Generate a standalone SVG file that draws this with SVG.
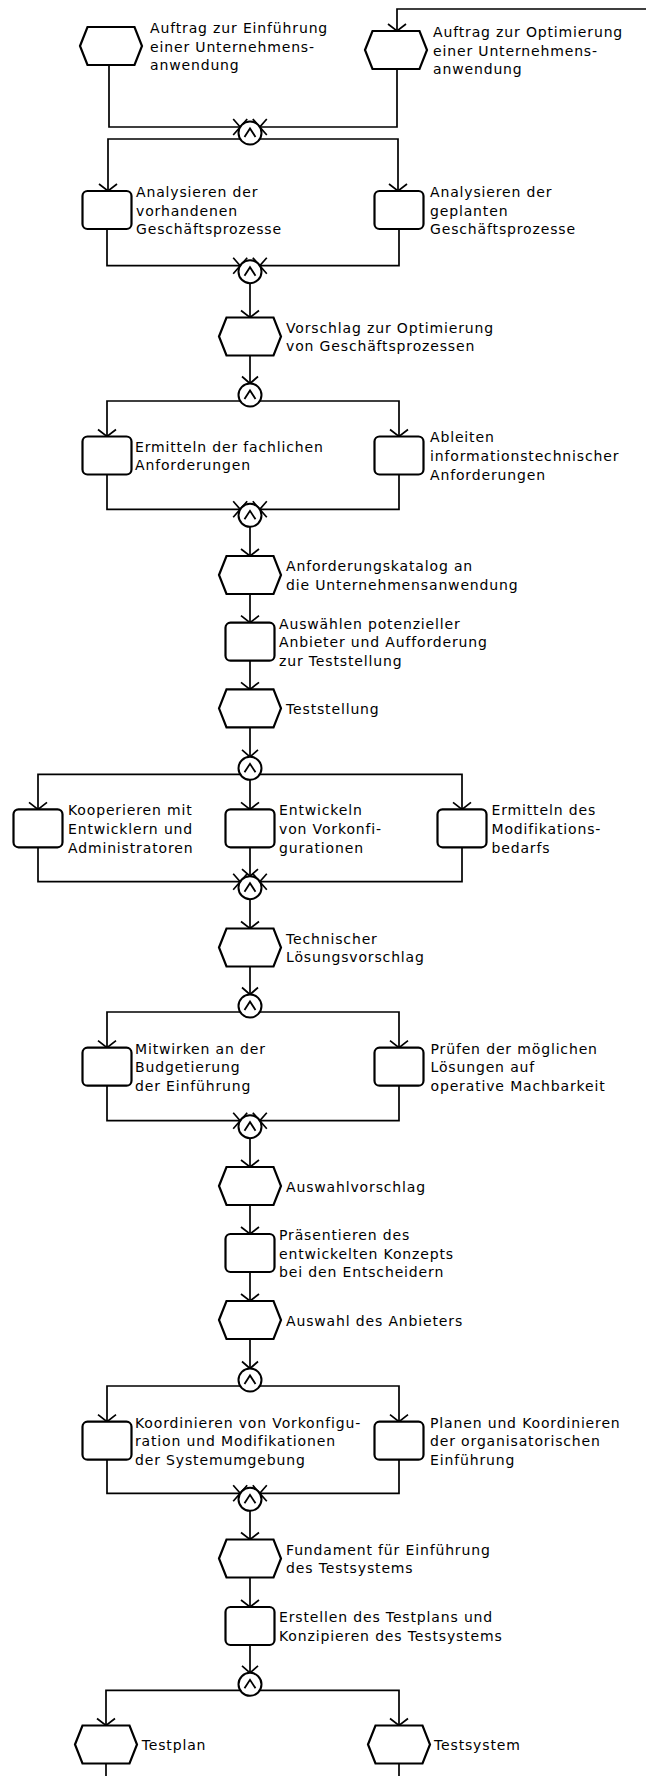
<svg xmlns="http://www.w3.org/2000/svg" width="646" height="1776" viewBox="0 0 646 1776">
<style>
.ev{fill:#fff;stroke:#000;stroke-width:2.2;stroke-linejoin:miter}
.fn{fill:#fff;stroke:#000;stroke-width:2.2}
.op{fill:#fff;stroke:#000;stroke-width:2}
.car{fill:none;stroke:#000;stroke-width:1.8}
.ln{fill:none;stroke:#000;stroke-width:1.7}
.v{marker-end:url(#av)}
.x{marker-end:url(#ax)}
text{font-family:"DejaVu Sans",Verdana,"Liberation Sans",sans-serif;font-size:14px;letter-spacing:0.85px;fill:#000}
</style>
<defs>
<marker id="av" markerUnits="userSpaceOnUse" viewBox="-12 -12 24 24" markerWidth="24" markerHeight="24" refX="0" refY="0" orient="auto" overflow="visible">
<path d="M-7,-9 L0,0 L-7,9" fill="none" stroke="#000" stroke-width="1.7"/>
</marker>
<marker id="ax" markerUnits="userSpaceOnUse" viewBox="-12 -12 24 24" markerWidth="24" markerHeight="24" refX="0" refY="0" orient="auto" overflow="visible">
<path d="M-7,-8 L7,8 M-7,8 L7,-8" fill="none" stroke="#000" stroke-width="1.7"/>
</marker>
</defs>
<rect width="646" height="1776" fill="#fff"/>
<g id="connectors">
<path class="ln v" d="M646,9 H397 V31"/>
<path class="ln x" d="M109,65 V127 H240.2"/>
<path class="ln x" d="M397,69 V127 H259.8"/>
<path class="ln v" d="M240.2,139 H108 V191"/>
<path class="ln v" d="M259.8,139 H398 V191"/>
<path class="ln x" d="M107,229 V265.7 H240.2"/>
<path class="ln x" d="M399,229 V265.7 H259.8"/>
<path class="ln v" d="M250,283.2 V317.5"/>
<path class="ln x" d="M250,355.5 V383.5"/>
<path class="ln v" d="M240.2,401 H107 V436.5"/>
<path class="ln v" d="M259.8,401 H399 V436.5"/>
<path class="ln x" d="M107,474.5 V509.3 H240.2"/>
<path class="ln x" d="M399,474.5 V509.3 H259.8"/>
<path class="ln v" d="M250,526.8 V556"/>
<path class="ln v" d="M250,594 V622.7"/>
<path class="ln v" d="M250,660.7 V689.3"/>
<path class="ln x" d="M250,727.3 V756.8"/>
<path class="ln v" d="M240.2,774.3 H38 V809.3"/>
<path class="ln v" d="M250,779.8 V809.3"/>
<path class="ln v" d="M259.8,774.3 H462 V809.3"/>
<path class="ln x" d="M38,847.3 V881.7 H240.2"/>
<path class="ln x" d="M250,847.3 V876.2"/>
<path class="ln x" d="M462,847.3 V881.7 H259.8"/>
<path class="ln v" d="M250,899.2 V928.5"/>
<path class="ln x" d="M250,966.5 V994.5"/>
<path class="ln v" d="M240.2,1012 H107 V1047.7"/>
<path class="ln v" d="M259.8,1012 H399 V1047.7"/>
<path class="ln x" d="M107,1085.7 V1120.7 H240.2"/>
<path class="ln x" d="M399,1085.7 V1120.7 H259.8"/>
<path class="ln v" d="M250,1138.2 V1167"/>
<path class="ln v" d="M250,1205 V1234"/>
<path class="ln v" d="M250,1272 V1301"/>
<path class="ln x" d="M250,1339 V1368.5"/>
<path class="ln v" d="M240.2,1386 H107 V1421.7"/>
<path class="ln v" d="M259.8,1386 H399 V1421.7"/>
<path class="ln x" d="M107,1459.7 V1493.3 H240.2"/>
<path class="ln x" d="M399,1459.7 V1493.3 H259.8"/>
<path class="ln v" d="M250,1510.8 V1539.5"/>
<path class="ln v" d="M250,1577.5 V1607"/>
<path class="ln x" d="M250,1645 V1672.8"/>
<path class="ln v" d="M240.2,1690.3 H106 V1725.5"/>
<path class="ln v" d="M259.8,1690.3 H399 V1725.5"/>
<path class="ln" d="M106,1763.5 V1776"/>
<path class="ln" d="M399,1763.5 V1776"/>
</g>
<g id="J1"><circle class="op" cx="250" cy="133" r="11.5"/><polyline class="car" points="244.5,137 250,128.5 255.5,137"/></g>
<g id="J2"><circle class="op" cx="250" cy="271.7" r="11.5"/><polyline class="car" points="244.5,275.7 250,267.2 255.5,275.7"/></g>
<g id="S3"><circle class="op" cx="250" cy="395" r="11.5"/><polyline class="car" points="244.5,399 250,390.5 255.5,399"/></g>
<g id="J4"><circle class="op" cx="250" cy="515.3" r="11.5"/><polyline class="car" points="244.5,519.3 250,510.8 255.5,519.3"/></g>
<g id="S5"><circle class="op" cx="250" cy="768.3" r="11.5"/><polyline class="car" points="244.5,772.3 250,763.8 255.5,772.3"/></g>
<g id="J6"><circle class="op" cx="250" cy="887.7" r="11.5"/><polyline class="car" points="244.5,891.7 250,883.2 255.5,891.7"/></g>
<g id="S7"><circle class="op" cx="250" cy="1006" r="11.5"/><polyline class="car" points="244.5,1010 250,1001.5 255.5,1010"/></g>
<g id="J8"><circle class="op" cx="250" cy="1126.7" r="11.5"/><polyline class="car" points="244.5,1130.7 250,1122.2 255.5,1130.7"/></g>
<g id="S9"><circle class="op" cx="250" cy="1380" r="11.5"/><polyline class="car" points="244.5,1384 250,1375.5 255.5,1384"/></g>
<g id="J10"><circle class="op" cx="250" cy="1499.3" r="11.5"/><polyline class="car" points="244.5,1503.3 250,1494.8 255.5,1503.3"/></g>
<g id="S11"><circle class="op" cx="250" cy="1684.3" r="11.5"/><polyline class="car" points="244.5,1688.3 250,1679.8 255.5,1688.3"/></g>
<g id="E1"><polygon class="ev" points="80,46 87.5,27 134.5,27 142,46 134.5,65 87.5,65"/><text><tspan x="150" y="32.8">Auftrag zur Einführung</tspan><tspan x="150" y="51.5">einer Unternehmens-</tspan><tspan x="150" y="70.2">anwendung</tspan></text></g>
<g id="E2"><polygon class="ev" points="365,50 372.5,31 419.5,31 427,50 419.5,69 372.5,69"/><text><tspan x="433" y="36.8">Auftrag zur Optimierung</tspan><tspan x="433" y="55.5">einer Unternehmens-</tspan><tspan x="433" y="74.2">anwendung</tspan></text></g>
<g id="F1"><rect class="fn" x="82.5" y="191" width="49" height="38" rx="5"/><text><tspan x="136" y="196.8">Analysieren der</tspan><tspan x="136" y="215.5">vorhandenen</tspan><tspan x="136" y="234.2">Geschäftsprozesse</tspan></text></g>
<g id="F2"><rect class="fn" x="374.5" y="191" width="49" height="38" rx="5"/><text><tspan x="430" y="196.8">Analysieren der</tspan><tspan x="430" y="215.5">geplanten</tspan><tspan x="430" y="234.2">Geschäftsprozesse</tspan></text></g>
<g id="E3"><polygon class="ev" points="219,336.5 226.5,317.5 273.5,317.5 281,336.5 273.5,355.5 226.5,355.5"/><text><tspan x="286" y="332.65">Vorschlag zur Optimierung</tspan><tspan x="286" y="351.35">von Geschäftsprozessen</tspan></text></g>
<g id="F3"><rect class="fn" x="82.5" y="436.5" width="49" height="38" rx="5"/><text><tspan x="135" y="451.65">Ermitteln der fachlichen</tspan><tspan x="135" y="470.35">Anforderungen</tspan></text></g>
<g id="F4"><rect class="fn" x="374.5" y="436.5" width="49" height="38" rx="5"/><text><tspan x="430" y="442.3">Ableiten</tspan><tspan x="430" y="461">informationstechnischer</tspan><tspan x="430" y="479.7">Anforderungen</tspan></text></g>
<g id="E4"><polygon class="ev" points="219,575 226.5,556 273.5,556 281,575 273.5,594 226.5,594"/><text><tspan x="286" y="571.15">Anforderungskatalog an</tspan><tspan x="286" y="589.85">die Unternehmensanwendung</tspan></text></g>
<g id="F5"><rect class="fn" x="225.5" y="622.7" width="49" height="38" rx="5"/><text><tspan x="279" y="628.5">Auswählen potenzieller</tspan><tspan x="279" y="647.2">Anbieter und Aufforderung</tspan><tspan x="279" y="665.9">zur Teststellung</tspan></text></g>
<g id="E5"><polygon class="ev" points="219,708.3 226.5,689.3 273.5,689.3 281,708.3 273.5,727.3 226.5,727.3"/><text x="286" y="713.8">Teststellung</text></g>
<g id="F6"><rect class="fn" x="13.5" y="809.3" width="49" height="38" rx="5"/><text><tspan x="68" y="815.1">Kooperieren mit</tspan><tspan x="68" y="833.8">Entwicklern und</tspan><tspan x="68" y="852.5">Administratoren</tspan></text></g>
<g id="F7"><rect class="fn" x="225.5" y="809.3" width="49" height="38" rx="5"/><text><tspan x="279" y="815.1">Entwickeln</tspan><tspan x="279" y="833.8">von Vorkonfi-</tspan><tspan x="279" y="852.5">gurationen</tspan></text></g>
<g id="F8"><rect class="fn" x="437.5" y="809.3" width="49" height="38" rx="5"/><text><tspan x="491.5" y="815.1">Ermitteln des</tspan><tspan x="491.5" y="833.8">Modifikations-</tspan><tspan x="491.5" y="852.5">bedarfs</tspan></text></g>
<g id="E6"><polygon class="ev" points="219,947.5 226.5,928.5 273.5,928.5 281,947.5 273.5,966.5 226.5,966.5"/><text><tspan x="286" y="943.65">Technischer</tspan><tspan x="286" y="962.35">Lösungsvorschlag</tspan></text></g>
<g id="F9"><rect class="fn" x="82.5" y="1047.7" width="49" height="38" rx="5"/><text><tspan x="135" y="1053.5">Mitwirken an der</tspan><tspan x="135" y="1072.2">Budgetierung</tspan><tspan x="135" y="1090.9">der Einführung</tspan></text></g>
<g id="F10"><rect class="fn" x="374.5" y="1047.7" width="49" height="38" rx="5"/><text><tspan x="430.5" y="1053.5">Prüfen der möglichen</tspan><tspan x="430.5" y="1072.2">Lösungen auf</tspan><tspan x="430.5" y="1090.9">operative Machbarkeit</tspan></text></g>
<g id="E7"><polygon class="ev" points="219,1186 226.5,1167 273.5,1167 281,1186 273.5,1205 226.5,1205"/><text x="286" y="1191.5">Auswahlvorschlag</text></g>
<g id="F11"><rect class="fn" x="225.5" y="1234" width="49" height="38" rx="5"/><text><tspan x="279" y="1239.8">Präsentieren des</tspan><tspan x="279" y="1258.5">entwickelten Konzepts</tspan><tspan x="279" y="1277.2">bei den Entscheidern</tspan></text></g>
<g id="E8"><polygon class="ev" points="219,1320 226.5,1301 273.5,1301 281,1320 273.5,1339 226.5,1339"/><text x="286" y="1325.5">Auswahl des Anbieters</text></g>
<g id="F12"><rect class="fn" x="82.5" y="1421.7" width="49" height="38" rx="5"/><text><tspan x="135" y="1427.5">Koordinieren von Vorkonfigu-</tspan><tspan x="135" y="1446.2">ration und Modifikationen</tspan><tspan x="135" y="1464.9">der Systemumgebung</tspan></text></g>
<g id="F13"><rect class="fn" x="374.5" y="1421.7" width="49" height="38" rx="5"/><text><tspan x="430" y="1427.5">Planen und Koordinieren</tspan><tspan x="430" y="1446.2">der organisatorischen</tspan><tspan x="430" y="1464.9">Einführung</tspan></text></g>
<g id="E9"><polygon class="ev" points="219,1558.5 226.5,1539.5 273.5,1539.5 281,1558.5 273.5,1577.5 226.5,1577.5"/><text><tspan x="286" y="1554.65">Fundament für Einführung</tspan><tspan x="286" y="1573.35">des Testsystems</tspan></text></g>
<g id="F14"><rect class="fn" x="225.5" y="1607" width="49" height="38" rx="5"/><text><tspan x="279" y="1622.15">Erstellen des Testplans und</tspan><tspan x="279" y="1640.85">Konzipieren des Testsystems</tspan></text></g>
<g id="E10"><polygon class="ev" points="75,1744.5 82.5,1725.5 129.5,1725.5 137,1744.5 129.5,1763.5 82.5,1763.5"/><text x="141.7" y="1750">Testplan</text></g>
<g id="E11"><polygon class="ev" points="368,1744.5 375.5,1725.5 422.5,1725.5 430,1744.5 422.5,1763.5 375.5,1763.5"/><text x="434" y="1750">Testsystem</text></g>
</svg>
